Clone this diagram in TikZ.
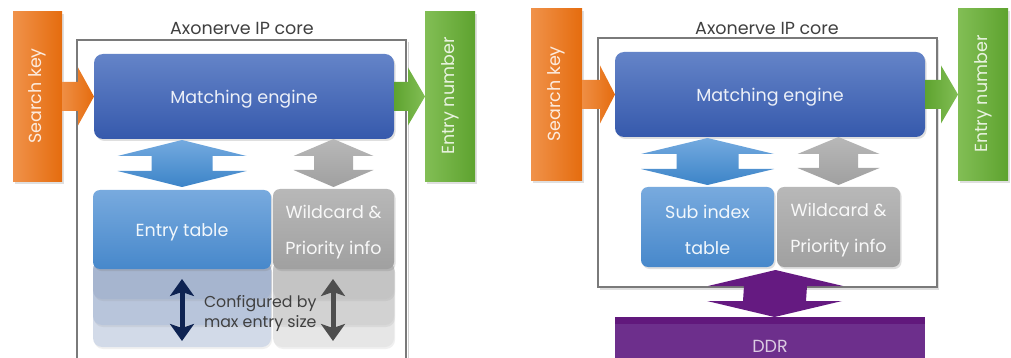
\documentclass[tikz,border=0pt]{standalone}
\usepackage{fontspec}
\setmainfont{Poppins}
\usetikzlibrary{calc,shadows,arrows.meta}

\definecolor{orL}{HTML}{F0924A}
\definecolor{orR}{HTML}{E56C0E}
\definecolor{grL}{HTML}{82BE55}
\definecolor{grR}{HTML}{5EA32F}
\definecolor{meT}{HTML}{6484C8}
\definecolor{meB}{HTML}{3659AC}
\definecolor{baT}{HTML}{74AADF}
\definecolor{baB}{HTML}{3C84C8}
\definecolor{etT}{HTML}{78AADE}
\definecolor{etB}{HTML}{4788CB}
\definecolor{gyT}{HTML}{B8B8B8}
\definecolor{gyB}{HTML}{A0A0A0}
\definecolor{fb1}{HTML}{A6B5CF}
\definecolor{fb2}{HTML}{B8C5DB}
\definecolor{fb3}{HTML}{D2DAE8}
\definecolor{fg1}{HTML}{C4C4C4}
\definecolor{fg2}{HTML}{D2D2D2}
\definecolor{fg3}{HTML}{E6E6E6}
\definecolor{navy}{HTML}{0E2352}
\definecolor{dkgray}{HTML}{4E4E4E}
\definecolor{purp}{HTML}{651A81}
\definecolor{ddrc}{HTML}{6D2F8C}
\definecolor{ddrs}{HTML}{61187C}
\definecolor{corec}{HTML}{7A7A7A}
\definecolor{txtd}{HTML}{404040}

% horizontal block arrow: start point, tip point, shaft half, head half, head length, shading
\newcommand\hfatarrow[6]{%
  \coordinate (hfs) at (#1);
  \coordinate (hfe) at (#2);
  \shade[#6] ($(hfs)+(0,-#3)$) -- ($(hfe)+(-#5,-#3)$) -- ($(hfe)+(-#5,-#4)$)
    -- (hfe) -- ($(hfe)+(-#5,#4)$) -- ($(hfe)+(-#5,#3)$) -- ($(hfs)+(0,#3)$) -- cycle;}
% vertical double block arrow: top tip, bottom tip, shaft half, head half, head length, shading
\newcommand\vfatarrow[6]{%
  \coordinate (vft) at (#1);
  \coordinate (vfb) at (#2);
  \shade[#6] (vft) -- ($(vft)+(#4,#5)$) -- ($(vft)+(#3,#5)$) -- ($(vfb)+(#3,-#5)$)
    -- ($(vfb)+(#4,-#5)$) -- (vfb) -- ($(vfb)+(-#4,-#5)$) -- ($(vfb)+(-#3,-#5)$)
    -- ($(vft)+(-#3,#5)$) -- ($(vft)+(-#4,#5)$) -- cycle;}

\begin{document}
\begin{tikzpicture}[x=1pt,y=-1pt,
  every node/.style={inner sep=0pt,outer sep=0pt},
  blk/.style={anchor=north west,draw=none},
  shd/.style={drop shadow={opacity=0.25,shadow xshift=1.5pt,shadow yshift=-2pt}},
  orangebar/.style={blk,shd,left color=orL,right color=orR},
  greenbar/.style={blk,shd,left color=grL,right color=grR},
  engine/.style={blk,shd,rounded corners=9pt,top color=meT,bottom color=meB},
  tablebox/.style={blk,shd,rounded corners=7pt,top color=etT,bottom color=etB},
  infobox/.style={blk,shd,rounded corners=7pt,top color=gyT,bottom color=gyB},
  lbl/.style={yshift=-3pt,font=\fontsize{17.5}{20}\selectfont},
  lbl2/.style={yshift=-3pt,align=center,font=\fontsize{17.5}{36}\selectfont},
  layer/.style={anchor=north west,rounded corners=9pt,
     drop shadow={opacity=0.12,shadow xshift=1pt,shadow yshift=-2pt}},
  bartext/.style={rotate=90,xshift=1pt,font=\fontsize{17.5}{20}\selectfont},
  title/.style={text=txtd,font=\fontsize{17.5}{20}\selectfont},
  coreline/.style={draw=corec,line width=1.6pt},
  orarrow/.style={left color=orL!90!orR,right color=orR},
  grarrow/.style={left color=grR,right color=grL},
  bluearrow/.style={top color=baT,bottom color=baB},
  grayarrow/.style={top color=gyT,bottom color=gyB},
  purparrow/.style={top color=purp,bottom color=purp},
  thinarrow/.style={line width=5pt,{Stealth[length=17pt,width=24pt,inset=4pt]}-{Stealth[length=17pt,width=24pt,inset=4pt]}}
]
\useasboundingbox (0,0) rectangle (1011,358);

%================ left: single-level table ================
\node[title] (t1) at (242,28) {Axonerve IP core};
\draw[black!18,line width=1.6pt] (408.5,42) -- (408.5,370);
\draw[coreline] (77,370) -- (77,40) -- (406,40) -- (406,370);

\node[orangebar,minimum width=49pt,minimum height=170pt] (sk1) at (13,12) {};
\node[bartext,text=white!82!orL] at (sk1.center) {Search key};
\node[greenbar,minimum width=50pt,minimum height=170pt] (en1) at (425,12) {};
\node[bartext,text=white!82!grL] at (en1.center) {Entry number};

% stacked copies below the tables
\node[layer,fill=fb3,minimum width=178pt,minimum height=86pt] (lb3) at (93,261) {};
\node[layer,fill=fb2,minimum width=178pt,minimum height=64pt] (lb2) at (93,261) {};
\node[layer,fill=fb1,minimum width=178pt,minimum height=38pt] (lb1) at (93,261) {};
\node[layer,fill=fg3,minimum width=121pt,minimum height=86pt] (lg3) at (273,261) {};
\node[layer,fill=fg2,minimum width=121pt,minimum height=64pt] (lg2) at (273,261) {};
\node[layer,fill=fg1,minimum width=121pt,minimum height=38pt] (lg1) at (273,261) {};

\node[engine,minimum width=300pt,minimum height=85pt] (me1) at (94,54) {};
\node[lbl,text=white!88!meT] at (me1.center) {Matching engine};
\node[tablebox,minimum width=178pt,minimum height=79pt] (et1) at (93,190) {};
\node[lbl,text=white!90!etT] at (et1.center) {Entry table};
\node[infobox,minimum width=121pt,minimum height=80pt] (wc1) at (273,189) {};
\node[lbl2,text=white!90!gyT] at (wc1.center) {Wildcard \&\\Priority info};

\hfatarrow{sk1.east |- me1.west}{me1.west}{14.5}{29}{16}{orarrow}
\hfatarrow{me1.east}{en1.west |- me1.east}{14.5}{29}{17}{grarrow}
\vfatarrow{$(me1.south -| et1.north)+(0,1)$}{$(et1.north)+(0,-3)$}{30.5}{64.5}{16}{bluearrow}
\vfatarrow{$(me1.south -| wc1.north)+(0,0)$}{$(wc1.north)+(0,-2)$}{19.5}{40}{17}{grayarrow}

\coordinate (na) at (182,279);
\coordinate (nb) at (182,341);
\coordinate (ga) at (333,279);
\coordinate (gb) at (333,341);
\draw[thinarrow,navy] (na) -- (nb);
\draw[thinarrow,dkgray] (ga) -- (gb);
\node[anchor=west,text=txtd,align=left,font=\fontsize{15.8}{20}\selectfont] (cfg) at (204,314)
  {Configured by\\max entry size};

%================ right: sub index table with DDR ================
\node[title] (t2) at (767,28) {Axonerve IP core};
\node[anchor=north west,coreline,fill=white,minimum width=339pt,minimum height=249pt,
  drop shadow={opacity=0.25,shadow xshift=2pt,shadow yshift=-2.5pt}] (core2) at (598,38) {};

\node[orangebar,minimum width=51pt,minimum height=172pt] (sk2) at (531,9) {};
\node[bartext,text=white!82!orL] at (sk2.center) {Search key};
\node[greenbar,minimum width=50pt,minimum height=172pt] (en2) at (958,9) {};
\node[bartext,text=white!82!grL] at (en2.center) {Entry number};

\node[engine,minimum width=310pt,minimum height=85pt] (me2) at (615,52) {};
\node[lbl,text=white!88!meT] at (me2.center) {Matching engine};
\node[tablebox,minimum width=133pt,minimum height=80pt] (si2) at (641,187) {};
\node[lbl2,text=white!90!etT] at (si2.center) {Sub index\\table};
\node[infobox,minimum width=123pt,minimum height=80pt] (wc2) at (777,187) {};
\node[lbl2,text=white!90!gyT] at (wc2.center) {Wildcard \&\\Priority info};

\node[blk,fill=ddrc,minimum width=310pt,minimum height=60pt] (ddr) at (615,317) {};
\fill[ddrs] (ddr.north west) rectangle ($(ddr.north east)+(0,7)$);
\node[lbl,text=white!75!ddrc,yshift=3pt] at (770,346) {DDR};

\hfatarrow{sk2.east |- me2.west}{me2.west}{14.5}{29}{15}{orarrow}
\hfatarrow{me2.east}{en2.west |- me2.east}{14.5}{29}{17}{grarrow}
\vfatarrow{$(me2.south -| si2.north)+(0,1)$}{$(si2.north)+(0,-2)$}{31}{66.5}{16}{bluearrow}
\vfatarrow{$(me2.south -| wc2.north)+(0,0)$}{$(wc2.north)+(0,-2)$}{19.5}{41}{17}{grayarrow}
\vfatarrow{$(si2.south east)!0.5!(wc2.south west)+(0,3)$}{ddr.north -| 774.5,0}{31.5}{67.5}{16}{purparrow}
\end{tikzpicture}
\end{document}
